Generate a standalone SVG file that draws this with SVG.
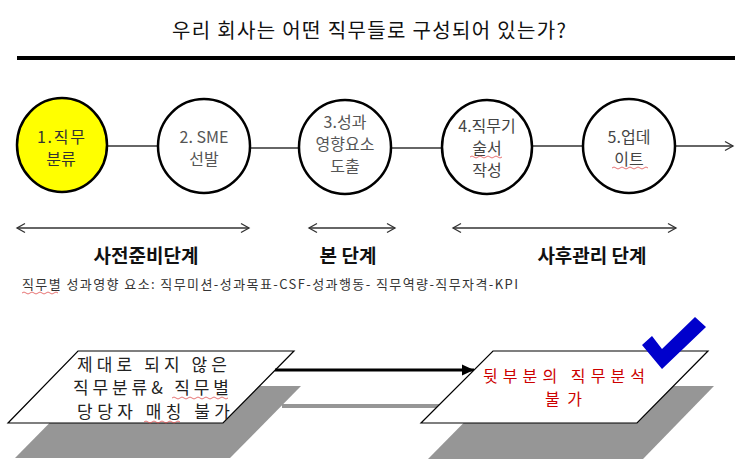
<svg xmlns="http://www.w3.org/2000/svg" width="743" height="476" viewBox="0 0 743 476">
<defs>
<style>
text{font-family:"Noto Sans CJK KR","Noto Sans",sans-serif;}
.title{font-size:20px;fill:#111;}
.ct{font-size:16px;text-anchor:middle;}
.circ{stroke:#000;stroke-width:2.5;fill:#fff;}
.conn{stroke:#333;stroke-width:1.5;fill:none;}
.stage{font-size:19px;font-weight:bold;text-anchor:middle;fill:#111;}
.sub{font-size:13px;fill:#333;}
.box{fill:#fff;stroke:#000;stroke-width:1.2;}
.shadow{fill:#969696;}
.bt{font-size:17px;fill:#222;}
.rt{font-size:16px;fill:#cc0000;}
.wavy{fill:none;stroke:#e05050;stroke-width:0.8;}
</style>
<marker id="open" markerUnits="userSpaceOnUse" markerWidth="12" markerHeight="12" refX="9" refY="6" orient="auto-start-reverse">
<path d="M1,1.5 L9,6 L1,10.5" fill="none" stroke="#333" stroke-width="1.3"/>
</marker>
<marker id="solid" markerUnits="userSpaceOnUse" markerWidth="14" markerHeight="12" refX="12" refY="6" orient="auto">
<path d="M0,0.5 L12,6 L0,11.5 Z" fill="#000"/>
</marker>
</defs>
<rect width="743" height="476" fill="#fff"/>
<text class="title" x="172" y="38" textLength="394" lengthAdjust="spacing">우리 회사는 어떤 직무들로 구성되어 있는가?</text>
<rect x="17" y="56" width="718" height="4" fill="#000"/>

<g id="connectors">
<line class="conn" x1="107" y1="146" x2="158" y2="146"/>
<line class="conn" x1="250" y1="148" x2="299" y2="148"/>
<line class="conn" x1="391" y1="148" x2="441" y2="148"/>
<line class="conn" x1="529" y1="146" x2="583" y2="146"/>
<line class="conn" x1="675" y1="146" x2="733" y2="146" marker-end="url(#open)"/>
<line class="conn" x1="17" y1="228" x2="249" y2="228" marker-start="url(#open)" marker-end="url(#open)"/>
<line class="conn" x1="309" y1="228" x2="395" y2="228" marker-start="url(#open)" marker-end="url(#open)"/>
<line class="conn" x1="453" y1="228" x2="676" y2="228" marker-start="url(#open)" marker-end="url(#open)"/>
</g>

<g id="n1">
<ellipse class="circ" cx="62" cy="145" rx="45" ry="47" style="fill:#ffff00"/>
<text class="ct" x="61" y="143" fill="#333" textLength="48" lengthAdjust="spacing">1.직무</text>
<text class="ct" x="61" y="165" fill="#333">분류</text>
</g>
<g id="n2">
<ellipse class="circ" cx="204" cy="146" rx="46" ry="47"/>
<text class="ct" x="204" y="143" fill="#555">2. SME</text>
<text class="ct" x="204" y="165" fill="#555">선발</text>
</g>
<g id="n3">
<ellipse class="circ" cx="345" cy="147" rx="46" ry="47"/>
<text class="ct" x="345" y="128" fill="#555">3.성과</text>
<text class="ct" x="345" y="150" fill="#555">영향요소</text>
<text class="ct" x="345" y="172" fill="#555">도출</text>
</g>
<g id="n4">
<ellipse class="circ" cx="487" cy="147" rx="45" ry="47"/>
<text class="ct" x="487" y="132" fill="#444">4.직무기</text>
<text class="ct" x="487" y="154" fill="#444">술서</text>
<text class="ct" x="487" y="176" fill="#444">작성</text>
<path class="wavy" d="M470,157 q2,-2 4,0 t4,0 t4,0 t4,0 t4,0 t4,0 t4,0 t4,0"/>
</g>
<g id="n5">
<ellipse class="circ" cx="629" cy="146" rx="46" ry="47"/>
<text class="ct" x="629" y="143" fill="#444">5.업데</text>
<text class="ct" x="629" y="165" fill="#444">이트</text>
<path class="wavy" d="M612,168 q2,-2 4,0 t4,0 t4,0 t4,0 t4,0 t4,0 t4,0 t4,0 t4,0"/>
</g>

<g id="stages">
<text class="stage" x="146" y="263">사전준비단계</text>
<text class="stage" x="348" y="263">본 단계</text>
<text class="stage" x="592" y="263">사후관리 단계</text>
</g>
<text class="sub" x="22" y="289" textLength="496" lengthAdjust="spacing">직무별 성과영향 요소: 직무미션-성과목표-CSF-성과행동-  직무역량-직무자격-KPI</text>
<path class="wavy" d="M22,293 q2,-2 4,0 t4,0 t4,0 t4,0 t4,0 t4,0 t4,0 t4,0 t4,0"/>

<g id="shadows">
<polygon class="shadow" points="86,386 301,386 230,458 15,458"/>
<polygon class="shadow" points="500,386 714,386 643,459 428,459"/>
<line x1="282" y1="406" x2="440" y2="406" stroke="#969696" stroke-width="4"/>
</g>

<g id="box1">
<polygon class="box" points="78,351 294,351 223,423 8,423"/>
<text class="bt" x="77" y="371" textLength="150" lengthAdjust="spacing">제대로 되지 않은</text>
<text class="bt" x="73" y="394" textLength="156" lengthAdjust="spacing">직무분류&amp; 직무별</text>
<text class="bt" x="77" y="418" textLength="153" lengthAdjust="spacing">당당자 매칭 불가</text>
<path class="wavy" d="M172,398 q2,-2 4,0 t4,0 t4,0 t4,0 t4,0 t4,0 t4,0 t4,0 t4,0 t4,0 t4,0 t4,0 t4,0 t4,0"/>
<path class="wavy" d="M144,422 q2,-2 4,0 t4,0 t4,0 t4,0 t4,0 t4,0 t4,0 t4,0 t4,0"/>
</g>

<g id="flow">
<line x1="275" y1="370" x2="474" y2="370" stroke="#000" stroke-width="3" marker-end="url(#solid)"/>
</g>

<g id="box2">
<polygon class="box" points="493,351 708,351 637,423 421,423"/>
<text class="rt" x="483" y="382" textLength="162" lengthAdjust="spacing">뒷부분의 직무분석</text>
<text class="rt" x="545" y="405" textLength="37" lengthAdjust="spacing">불가</text>
<polygon points="642,345 652,336 662,349 695,317 706,327 662,369" fill="#0000cc"/>
</g>
</svg>
